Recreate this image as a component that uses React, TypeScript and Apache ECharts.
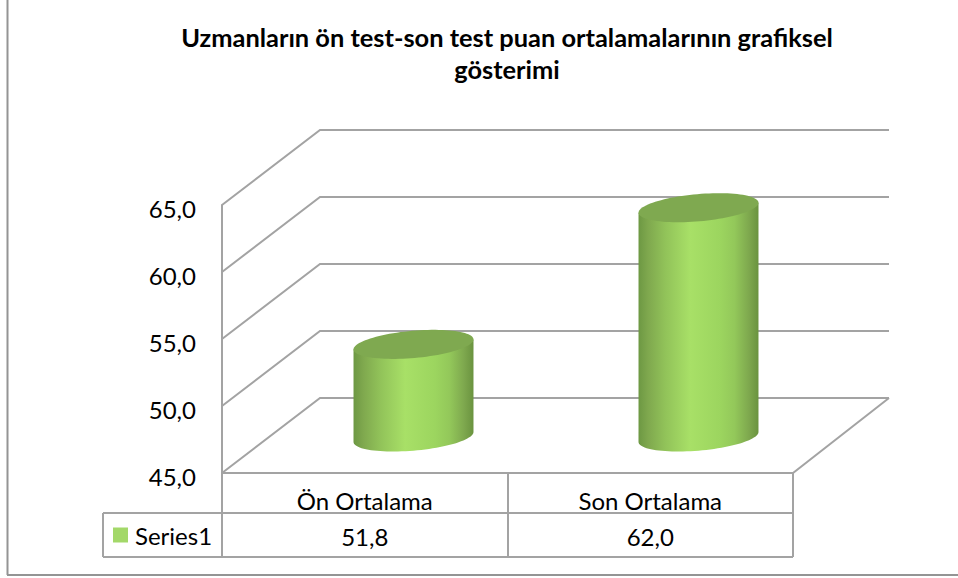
import React, { useEffect, useRef } from "react";
import * as echarts from "echarts";

const categories = ["Ön Ortalama", "Son Ortalama"];
const seriesName = "Series1";
const seriesValues = [51.8, 62.0];
const yTicks = [45, 50, 55, 60, 65];
const titleText = "Uzmanların ön test-son test puan ortalamalarının grafiksel\ngösterimi";

const FONT = "Lato";
const LINE = "#a3a3a3";
const fmt = (v: number) => v.toFixed(1).replace(".", ",");

const bodyGradient = {
  type: "linear", x: 0, y: 0, x2: 1, y2: 0,
  colorStops: [
    { offset: 0, color: "#6d9843" },
    { offset: 0.08, color: "#7fa84e" },
    { offset: 0.22, color: "#91c259" },
    { offset: 0.43, color: "#a8e067" },
    { offset: 0.68, color: "#9cd55f" },
    { offset: 0.8, color: "#93c85a" },
    { offset: 0.92, color: "#7ea84e" },
    { offset: 1, color: "#6a933f" },
  ],
};

const A = 60.2, B = 13.6;
const TILT = (-5 * Math.PI) / 180;
const C = Math.cos(TILT), S = Math.sin(TILT);
const T0 = Math.atan2(-B * S, A * C);
const rimPoint = (cx: number, cy: number, t: number) => [
  cx + A * C * Math.cos(t) - B * S * Math.sin(t),
  cy + A * S * Math.cos(t) + B * C * Math.sin(t),
];
function ellipsePoints(cx: number, cy: number) {
  const pts: number[][] = [];
  for (let i = 0; i < 96; i++) pts.push(rimPoint(cx, cy, (i / 96) * 2 * Math.PI));
  return pts;
}
function bodyPoints(cx: number, top: number, bottom: number) {
  const pts: number[][] = [rimPoint(cx, top, T0 + Math.PI)];
  for (let i = 0; i <= 48; i++) pts.push(rimPoint(cx, bottom, T0 + Math.PI - (i / 48) * Math.PI));
  pts.push(rimPoint(cx, top, T0));
  return pts;
}

export default function App() {
  const ref = useRef<HTMLDivElement>(null);
  useEffect(() => {
    const chart = echarts.init(ref.current!, null, { renderer: "svg" });
    const gridLine = (x1: number, y1: number, x2: number, y2: number, w = 2, color = LINE) => ({
      type: "line", silent: true, z: 1,
      shape: { x1, y1, x2, y2 },
      style: { stroke: color, lineWidth: w },
    });
    chart.setOption({
      animation: false,
      backgroundColor: "#ffffff",
      title: {
        text: titleText,
        left: 502, top: 16, textAlign: "center",
        textStyle: { fontFamily: FONT, fontWeight: "bold", fontSize: 25.4, lineHeight: 32, color: "#000" },
      },
      legend: {
        left: 113, top: 523, padding: 0, itemWidth: 15, itemHeight: 15, itemGap: 0,
        data: [{ name: seriesName, icon: "rect" }],
        textStyle: { fontFamily: FONT, fontSize: 24, color: "#000", padding: [0, 0, 0, 2] },
      },
      grid: [
        { left: 222, width: 571, top: 205, height: 268 },
        { left: 271, width: 570, top: 167.5, height: 268 },
        { left: 222, width: 571, top: 208, height: 268 },
      ],
      xAxis: [
        {
          gridIndex: 0, type: "category", data: categories,
          axisLine: { show: false }, axisTick: { show: false },
          axisLabel: { fontFamily: FONT, fontSize: 24, color: "#000", margin: 15 },
        },
        { gridIndex: 1, type: "category", data: categories, show: false },
        { gridIndex: 2, type: "category", data: categories, show: false },
      ],
      yAxis: [
        {
          gridIndex: 0, type: "value", min: 45, max: 65, interval: 5,
          axisLine: { show: true, lineStyle: { color: LINE, width: 2 } },
          axisTick: { show: false }, splitLine: { show: false },
          axisLabel: { show: false },
        },
        { gridIndex: 1, type: "value", min: 45, max: 65, interval: 5, show: false, splitLine: { show: false } },
        {
          gridIndex: 2, type: "value", min: 45, max: 65, interval: 5,
          axisLine: { show: false }, axisTick: { show: false }, splitLine: { show: false },
          axisLabel: { fontFamily: FONT, fontSize: 24, color: "#000", margin: 26, formatter: fmt },
        },
      ],
      graphic: [
        gridLine(7.5, 0, 7.5, 575, 2, "#949494"),
        gridLine(7, 575, 958, 575, 2, "#949494"),
        gridLine(103, 513, 793, 513),
        gridLine(103, 557, 793, 557),
        gridLine(103, 513, 103, 557),
        gridLine(222, 473, 222, 557),
        gridLine(508, 473, 508, 557),
        gridLine(793, 473, 793, 557),
      ],
      series: [
        {
          type: "custom", name: "walls", coordinateSystem: "cartesian2d",
          xAxisIndex: 0, yAxisIndex: 0, silent: true, z: 1,
          data: yTicks.map((v) => [0, v]),
          encode: { x: 0, y: 1 },
          renderItem(params: any, api: any) {
            const g = params.coordSys;
            const y = api.coord([0, api.value(1)])[1];
            const pts = [[g.x, y], [g.x + 98, y - 75], [g.x + 667, y - 75]];
            return { type: "polyline", shape: { points: pts }, style: { stroke: LINE, lineWidth: 2, fill: "none" } };
          },
        },
        {
          type: "custom", name: "floor", coordinateSystem: "cartesian2d",
          xAxisIndex: 0, yAxisIndex: 0, silent: true, z: 1,
          data: [[0, yTicks[0]]],
          encode: { x: 0, y: 1 },
          renderItem(params: any, api: any) {
            const g = params.coordSys;
            const y = api.coord([0, api.value(1)])[1];
            const pts = [[g.x, y], [g.x + g.width, y], [g.x + 667, y - 75]];
            return { type: "polyline", shape: { points: pts }, style: { stroke: LINE, lineWidth: 2, fill: "none" } };
          },
        },
        {
          type: "custom", name: seriesName, coordinateSystem: "cartesian2d",
          xAxisIndex: 1, yAxisIndex: 1, silent: true, z: 3, clip: false,
          itemStyle: { color: "#a3d869" },
          data: seriesValues.map((v, i) => [i, v]),
          encode: { x: 0, y: 1 },
          renderItem(_p: any, api: any) {
            const i = api.value(0), v = api.value(1);
            const [cx, top] = api.coord([i, v]);
            const bottom = api.coord([i, yTicks[0]])[1] + 1.5;
            return {
              type: "group",
              children: [
                { type: "polygon", shape: { points: bodyPoints(cx, top, bottom) }, style: { fill: bodyGradient } },
                { type: "polygon", shape: { points: ellipsePoints(cx, top) }, style: { fill: "#7fa950" } },
              ],
            };
          },
        },
        {
          type: "custom", name: "table", coordinateSystem: "cartesian2d",
          xAxisIndex: 0, yAxisIndex: 0, silent: true, z: 3,
          data: seriesValues.map((v, i) => [i, v]),
          encode: { x: 0, y: 1 },
          clip: false,
          renderItem(_p: any, api: any) {
            const x = api.coord([api.value(0), yTicks[0]])[0];
            return {
              type: "text",
              style: {
                x, y: 536, text: fmt(api.value(1)), align: "center", verticalAlign: "middle",
                fontFamily: FONT, fontSize: 24, fill: "#000",
              },
            };
          },
        },
      ],
    } as any);
    return () => chart.dispose();
  }, []);
  return <div ref={ref} style={{ position: "fixed", left: 0, top: 0, width: 958, height: 578 }} />;
}
